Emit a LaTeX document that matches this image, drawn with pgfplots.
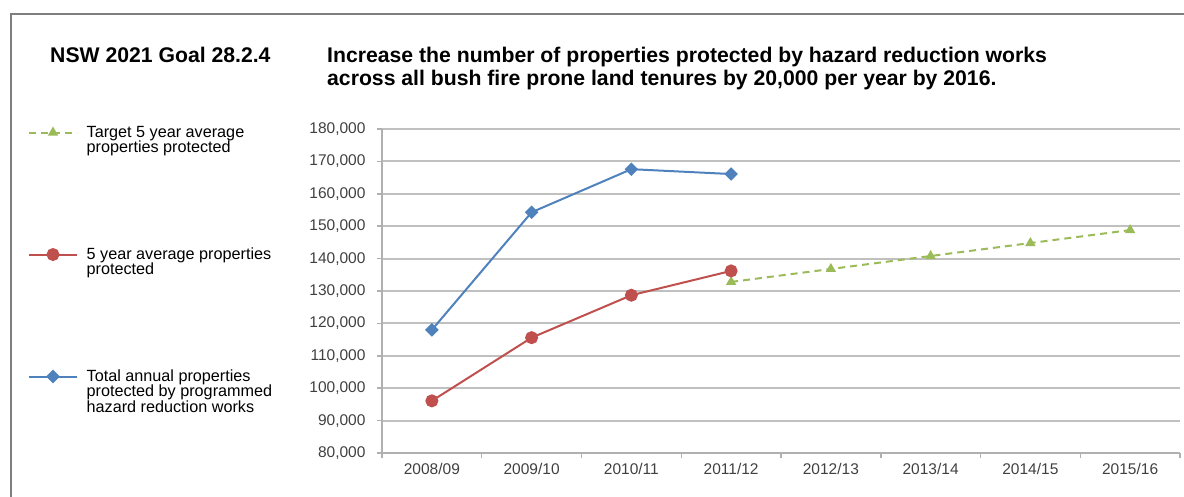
\documentclass[border=0pt]{standalone}
\usepackage{fontspec}
\setmainfont{Liberation Sans}
\usepackage{pgfplots}
\usepackage{pgfplotstable}
\pgfplotsset{compat=1.18}
\definecolor{cblue}{HTML}{4F81BD}
\definecolor{cred}{HTML}{C0504D}
\definecolor{cgreen}{HTML}{9BBB59}
\definecolor{gridc}{HTML}{C0C0C0}
\definecolor{axc}{HTML}{B0B0B0}
\definecolor{framec}{HTML}{7F7F7F}
\definecolor{tickc}{HTML}{404040}

\pgfplotstableread{
x y
3 132800
4 136800
5 140800
6 144800
7 148800
}\targetdata
\pgfplotstableread{
x y
0 96100
1 115600
2 128700
3 136200
}\avgdata
\pgfplotstableread{
x y
0 118000
1 154300
2 167600
3 166100
}\totaldata

\begin{document}
\begin{tikzpicture}
\path[use as bounding box] (0,0) rectangle (1184pt,-496pt);
\draw[framec, line width=2.5pt] (11pt,-497pt) -- (11pt,-14pt) -- (1185pt,-14pt);
\node[anchor=base west, inner sep=0pt, font=\fontsize{21.2}{25}\bfseries\selectfont] at (50pt,-62pt) {NSW 2021 Goal 28.2.4};
\node[anchor=base west, inner sep=0pt, font=\fontsize{21.2}{25}\bfseries\selectfont] at (327pt,-62pt) {Increase the number of properties protected by hazard reduction works};
\node[anchor=base west, inner sep=0pt, font=\fontsize{21.2}{25}\bfseries\selectfont] at (327pt,-85pt) {across all bush fire prone land tenures by 20,000 per year by 2016.};
\begin{axis}[
  at={(382pt,-453pt)}, anchor=south west,
  scale only axis, width=798pt, height=324pt,
  xmin=-0.5, xmax=7.5, ymin=80000, ymax=180000,
  axis lines*=left,
  axis line style={axc, line width=2pt},
  xtick={0,1,2,3,4,5,6,7},
  xticklabels={2008/09,2009/10,2010/11,2011/12,2012/13,2013/14,2014/15,2015/16},
  major x tick style={draw=none},
  minor xtick={-0.5,0.5,1.5,2.5,3.5,4.5,5.5,6.5,7.5},
  minor tick style={axc, line width=1.5pt},
  ytick={80000,90000,100000,110000,120000,130000,140000,150000,160000,170000,180000},
  yticklabels={{80,000},{90,000},{100,000},{110,000},{120,000},{130,000},{140,000},{150,000},{160,000},{170,000},{180,000}},
  major y tick style={axc, line width=1.5pt},
  tick align=outside,
  major tick length=5pt, minor tick length=5pt,
  ymajorgrids, grid style={gridc, line width=2pt},
  scaled y ticks=false,
  tick label style={font=\fontsize{15.5}{18}\selectfont, text=tickc},
  yticklabel style={xshift=-8pt},
  xticklabel style={yshift=-2pt},
  legend cell align=left,
  legend style={at={(-0.4436,1.0123)}, anchor=north west, draw=none, fill=none,
    inner sep=0pt, outer sep=0pt, row sep=100pt, column sep=8.7pt,
    nodes={inner sep=0pt, outer sep=0pt},
    cells={anchor=base west},
    font=\fontsize{16.2}{15.8}\selectfont},
  legend image code/.code={
    \path[draw=none, fill=none] (0pt,-10pt) rectangle (48pt,12pt);
    \draw[mark repeat=2,mark phase=2,#1] plot coordinates {(0pt,4.5pt)(24pt,4.5pt)(48pt,4.5pt)};
  },
]
\addplot[cgreen, line width=2pt, dash pattern=on 7pt off 5pt, mark=triangle*, mark size=4pt, mark options={solid, fill=cgreen}] table[x=x,y=y] {\targetdata};
\addlegendentry{\parbox[t]{220pt}{Target 5 year average\\properties protected}}
\addplot[cred, line width=2pt, mark=*, mark size=5.5pt, mark options={solid, fill=cred}] table[x=x,y=y] {\avgdata};
\addlegendentry{\parbox[t]{220pt}{5 year average properties\\protected}}
\addplot[cblue, line width=2pt, mark=square*, mark size=3.8pt, mark options={solid, fill=cblue, rotate=45}] table[x=x,y=y] {\totaldata};
\addlegendentry{\parbox[t]{220pt}{Total annual properties\\protected by programmed\\hazard reduction works}}
\end{axis}
\end{tikzpicture}
\end{document}
